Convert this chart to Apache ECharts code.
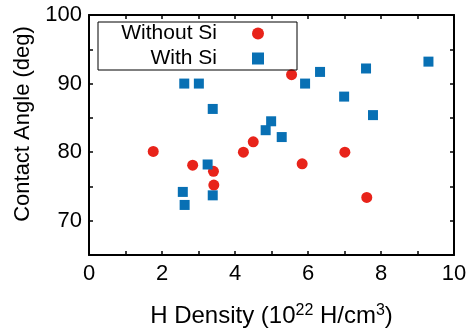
<!DOCTYPE html>
<html>
<head>
<meta charset="utf-8">
<script src="https://cdn.jsdelivr.net/npm/echarts@6/dist/echarts.min.js"></script>
<style>
  html, body { margin: 0; padding: 0; background: #fff; }
  #chart { width: 472px; height: 333px; }
</style>
</head>
<body>
<div id="chart"></div>
<script>
// without Si (circles)
const noSiX = [1.76, 2.84, 3.41, 3.42, 4.23, 4.50, 5.55, 5.84, 7.01, 7.61];
const noSiY = [80.1, 78.1, 77.2, 75.2, 80.0, 81.5, 91.3, 78.3, 80.0, 73.4];
// with Si (squares)
const siX = [2.61, 3.01, 3.39, 2.57, 2.62, 3.25, 3.39, 4.84, 4.99, 5.28, 5.92, 6.33, 6.99, 7.59, 7.78, 9.30];
const siY = [90.0, 90.0, 86.3, 74.2, 72.3, 78.2, 73.7, 83.2, 84.5, 82.2, 90.0, 91.7, 88.1, 92.2, 85.4, 93.2];

const red = "#e8231a";
const blue = "#0870b4";
const font = "Liberation Sans, Arial, sans-serif";

var myChart = echarts.init(document.getElementById("chart"));

const axisCommon = {
  axisLine: { show: true, onZero: false, lineStyle: { color: "#000", width: 2 } },
  axisTick: { show: true, inside: true, length: 4, lineStyle: { color: "#000", width: 1.5 } },
  splitLine: { show: false },
};

const legendText = { fontFamily: font, fontSize: 21, color: "#000", padding: [0, 30, 0, 0] };

var option = {
  animation: false,
  grid: { left: 89, right: 18, top: 15, bottom: 62 },
  xAxis: [
    {
      ...axisCommon,
      type: "value",
      min: 0,
      max: 10,
      interval: 1,
      position: "bottom",
      axisLabel: {
        color: "#000",
        fontFamily: font,
        fontSize: 22,
        margin: 8,
        formatter: (v) => (v % 2 === 0 ? String(v) : ""),
      },
      name: "{t|H Density (10}{s|22}{t| H/cm}{s|3}{t|)}",
      nameLocation: "middle",
      nameGap: 48,
      nameTextStyle: {
        rich: {
          t: { fontFamily: font, fontSize: 24, color: "#000" },
          s: { fontFamily: font, fontSize: 16, color: "#000", verticalAlign: "top", padding: [0, 0, 10, 0] },
        },
      },
    },
    {
      ...axisCommon,
      type: "value",
      min: 0,
      max: 10,
      interval: 1,
      position: "top",
      axisLabel: { show: false },
    },
  ],
  yAxis: [
    {
      ...axisCommon,
      type: "value",
      min: 65,
      max: 100,
      interval: 5,
      position: "left",
      axisLabel: {
        color: "#000",
        fontFamily: font,
        fontSize: 22,
        margin: 7,
        formatter: (v) => (v % 10 === 0 ? String(v) : ""),
      },
      name: "Contact Angle (deg)",
      nameLocation: "middle",
      nameGap: 52,
      nameTextStyle: { fontFamily: font, fontSize: 22, color: "#000", padding: [0, 0, 0, 22] },
    },
    {
      ...axisCommon,
      type: "value",
      min: 65,
      max: 100,
      interval: 5,
      position: "right",
      axisLabel: { show: false },
    },
  ],
  legend: [
    {
      data: ["Without Si"],
      right: 208,
      top: 23,
      align: "right",
      itemWidth: 12,
      itemHeight: 12,
      padding: 0,
      textStyle: legendText,
    },
    {
      data: ["With Si"],
      right: 208,
      top: 48,
      align: "right",
      itemWidth: 12,
      itemHeight: 12,
      padding: 0,
      textStyle: legendText,
    },
  ],
  graphic: [
    {
      type: "rect",
      shape: { x: 98, y: 22, width: 199, height: 48 },
      style: { fill: null, stroke: "#000", lineWidth: 1 },
      z: 10,
    },
  ],
  series: [
    {
      name: "Without Si",
      type: "scatter",
      symbol: "circle",
      symbolSize: 11,
      itemStyle: { color: red, opacity: 1 },
      data: noSiX.map((x, i) => [x, noSiY[i]]),
    },
    {
      name: "With Si",
      type: "scatter",
      symbol: "rect",
      symbolSize: 10,
      itemStyle: { color: blue, opacity: 1 },
      data: siX.map((x, i) => [x, siY[i]]),
    },
  ],
};

option && myChart.setOption(option);
</script>
</body>
</html>
